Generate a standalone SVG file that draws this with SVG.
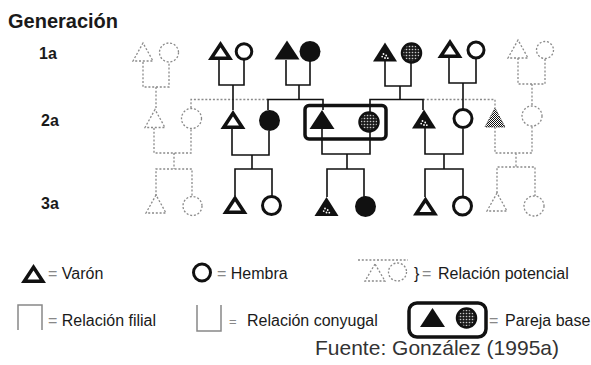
<svg xmlns="http://www.w3.org/2000/svg" width="591" height="365" viewBox="0 0 591 365">
<style>
.t{font-family:"Liberation Sans",Arial,sans-serif;fill:#1a1a1a}
.b{font-weight:bold}
.eq{fill:#888}
.ln{stroke:#111;stroke-width:1.6;fill:none}
.dl{stroke:#8a8a8a;stroke-width:1.3;fill:none;stroke-dasharray:2 1.8}
.cO{fill:none;stroke:#111;stroke-width:3}
.cD{fill:none;stroke:#8a8a8a;stroke-width:1.3;stroke-dasharray:2 1.8}
.cF{fill:#111}
.cT{fill:url(#dots);stroke:#111;stroke-width:2.5}
.box{fill:none;stroke:#111;stroke-width:3.5}
.leg{fill:none;stroke:#888;stroke-width:1.5}
</style>
<defs>
<pattern id="dots" width="3" height="3" patternUnits="userSpaceOnUse">
<rect width="3" height="3" fill="#1e1e1e"/>
<circle cx="1.5" cy="1.5" r="0.8" fill="#c8c8c8"/>
</pattern>
<pattern id="chk" width="2" height="2" patternUnits="userSpaceOnUse">
<rect width="2" height="2" fill="#fff"/>
<rect width="1" height="1" fill="#111"/>
<rect x="1" y="1" width="1" height="1" fill="#111"/>
</pattern>
<polygon id="tO" points="0,-6.3 -9.25,7.75 9.25,7.75" fill="none" stroke="#111" stroke-width="3.5"/>
<polygon id="tF" points="0,-9.5 -12.5,9.5 12.5,9.5" fill="#111"/>
<g id="tT">
<polygon points="0,-9.5 -12,9.5 12,9.5" fill="#111"/>
<circle cx="-1.5" cy="2" r="0.9" fill="#fff"/>
<circle cx="1.2" cy="3.5" r="0.9" fill="#fff"/>
<circle cx="-2.8" cy="4.6" r="0.9" fill="#fff"/>
<circle cx="0" cy="6" r="0.9" fill="#fff"/>
<circle cx="2.8" cy="6.2" r="0.9" fill="#fff"/>
</g>
<polygon id="tD" points="0,-9 -10,9 10,9" fill="none" stroke="#8a8a8a" stroke-width="1.3" stroke-dasharray="2 1.8"/>
</defs>

<rect width="591" height="365" fill="#fff"/>

<g id="labels">
<text class="t b" x="8" y="28" font-size="20">Generación</text>
<text class="t b" x="39" y="59" font-size="16">1a</text>
<text class="t b" x="41" y="126" font-size="16">2a</text>
<text class="t b" x="41" y="209" font-size="16">3a</text>
</g>

<g id="connectors">
<path class="dl" d="M143,62 V87 H169 V62 M156,87 V109 M191,108 V99.5 H268 M423,99.5 H495 V108 M518,58 V84 H545 V58 M532,84 V106"/>
<path class="ln" d="M219,59 V85 H244 V60 M233,85 V110 M286,60 V85 H310 V61 M299,85 V99.5 M268,110 V99.5 H323 V110 M385,61 V86 H411 V62 M400,86 V99.5 M370,112 V99.5 H423 V110 M449,57 V83 H476 V58 M463,83 V109"/>
<path class="dl" d="M154,128 V153 H191 V129 M174,153 V169 M156,196 V169 H192 V197 M495,127 V153 H532 V126 M516,153 V167 M497,193 V167 H535 V196"/>
<path class="ln" d="M232,129 V155 H269 V131 M252,155 V169 M235,196 V169 H272 V196 M322,129 V154 H370 V131 M347,154 V169 M327,197 V169 H364 V197 M425,128 V154 H463 V129 M444,154 V169 M425,197 V169 H463 V196"/>
</g>

<g id="gen1">
<g id="g1-pot-left"><use href="#tD" x="143" y="52"/><circle class="cD" cx="169" cy="52.5" r="9.5"/></g>
<g id="g1-pair1"><use href="#tO" x="220.5" y="50.5"/><circle class="cO" cx="244" cy="51.5" r="7.8"/></g>
<g id="g1-pair2"><use href="#tF" x="287" y="50"/><circle class="cF" cx="310" cy="51.5" r="10.5"/></g>
<g id="g1-pair3"><use href="#tT" x="385" y="52"/><circle class="cT" cx="411.5" cy="53" r="9.5"/></g>
<g id="g1-pair4"><use href="#tO" x="450" y="48.5"/><circle class="cO" cx="476" cy="50" r="8"/></g>
<g id="g1-pot-right"><use href="#tD" x="518" y="49"/><circle class="cD" cx="545" cy="50" r="8.5"/></g>
</g>

<g id="gen2">
<g id="g2-pot-left"><use href="#tD" x="155" y="118.5"/><circle class="cD" cx="191.5" cy="118.5" r="10"/></g>
<g id="g2-pair1"><use href="#tO" x="233" y="119.5"/><circle class="cF" cx="269.5" cy="120.5" r="10.5"/></g>
<g id="g2-base">
<rect class="box" x="305" y="105.5" width="81" height="33.5" rx="4"/>
<use href="#tF" x="322" y="119.5"/>
<circle class="cT" cx="369" cy="122" r="9.5"/>
</g>
<g id="g2-pair3"><use href="#tT" x="424" y="119"/><circle class="cO" cx="463" cy="118.5" r="9"/></g>
<g id="g2-pot-right">
<polygon points="495,108 485,127 505,127" fill="url(#chk)" stroke="#555" stroke-width="1" stroke-dasharray="1.5 1"/>
<circle class="cD" cx="532" cy="116" r="10"/>
</g>
</g>

<g id="gen3">
<g id="g3-pot-left"><use href="#tD" x="156" y="204"/><circle class="cD" cx="192.5" cy="206" r="9.5"/></g>
<g id="g3-pair1"><use href="#tO" x="235" y="204.5"/><circle class="cO" cx="271.5" cy="205.5" r="9"/></g>
<g id="g3-base-children"><use href="#tT" x="326.5" y="206.5"/><circle class="cF" cx="365.5" cy="206.5" r="10.5"/></g>
<g id="g3-pair3"><use href="#tO" x="425.5" y="206"/><circle class="cO" cx="462.5" cy="206" r="9"/></g>
<g id="g3-pot-right"><use href="#tD" x="497" y="202"/><circle class="cD" cx="534" cy="206" r="10"/></g>
</g>

<g id="legend">
<g id="leg-varon"><use href="#tO" x="33.5" y="273.5"/>
<text class="t" x="48" y="279" font-size="16"><tspan class="eq">=</tspan> Varón</text></g>
<g id="leg-hembra"><circle class="cO" cx="202" cy="272.5" r="8.5"/>
<text class="t" x="217" y="279" font-size="16"><tspan class="eq">=</tspan> Hembra</text></g>
<g id="leg-potencial">
<line class="dl" x1="358" y1="260" x2="408" y2="260"/>
<polygon points="375,264 365,281 385,281" class="cD"/>
<circle class="cD" cx="397.5" cy="272" r="9"/>
<text class="t" font-size="16" y="279"><tspan x="414">}</tspan><tspan class="eq" x="422">=</tspan><tspan x="438">Relación potencial</tspan></text>
</g>
<g id="leg-filial"><path class="leg" d="M18,330 V305 H42 V330"/>
<text class="t" x="48" y="326" font-size="16"><tspan class="eq">=</tspan> Relación filial</text></g>
<g id="leg-conyugal"><path class="leg" d="M197,305 V331 H221 V305"/>
<text class="t" font-size="16" y="326"><tspan class="eq" x="229" font-size="13">=</tspan><tspan x="247">Relación conyugal</tspan></text></g>
<g id="leg-pareja">
<rect class="box" x="409" y="303" width="77" height="34" rx="8"/>
<use href="#tF" x="432.5" y="317.5"/>
<circle class="cT" cx="466.5" cy="318" r="9.5"/>
<text class="t" font-size="16" y="326"><tspan class="eq" x="489">=</tspan><tspan x="505">Pareja base</tspan></text>
</g>
<text id="fuente" class="t" x="315" y="355" font-size="21" style="fill:#333">Fuente: González (1995a)</text>
</g>
</svg>
